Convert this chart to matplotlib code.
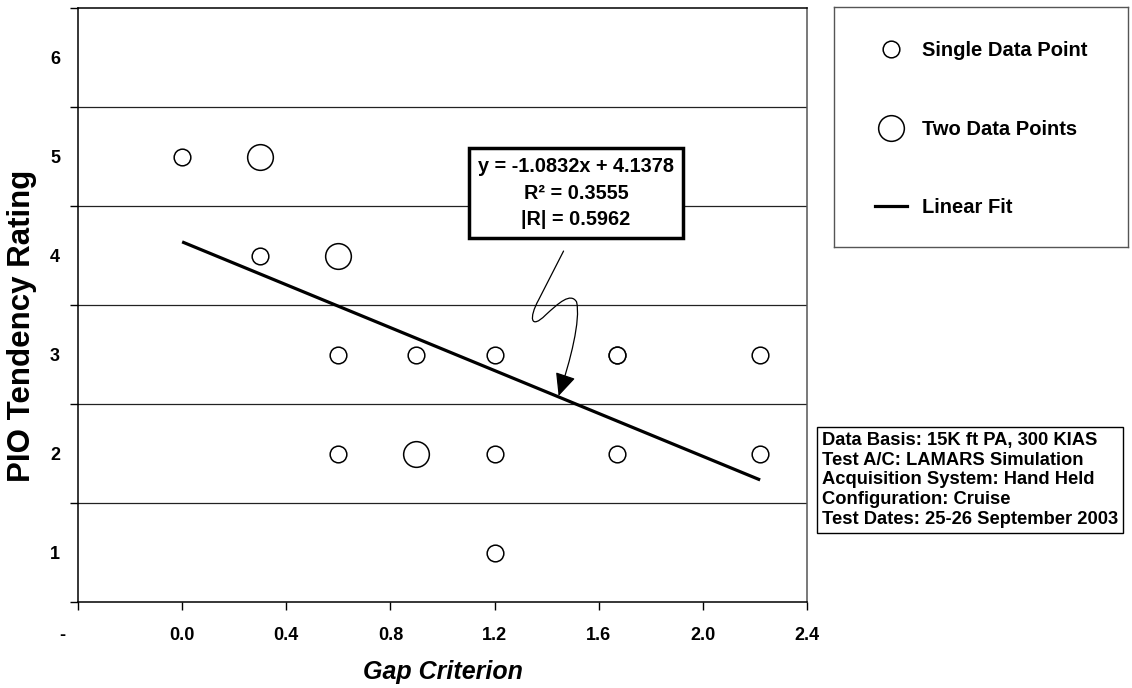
import numpy as np
import matplotlib
matplotlib.use('Agg')
import matplotlib.pyplot as plt
from matplotlib.lines import Line2D
from matplotlib.path import Path
from matplotlib.patches import FancyArrowPatch

plt.rcParams['font.family'] = ['Liberation Sans', 'DejaVu Sans']
plt.rcParams['font.weight'] = 'bold'

# ratings, single pilot points and points shared by two pilots
single_x = [0.0, 0.3, 0.6, 0.9, 1.2, 1.67, 1.67, 2.22, 0.6, 1.2, 1.67, 2.22, 1.2]
single_y = [5, 4, 3, 3, 3, 3, 3, 3, 2, 2, 2, 2, 1]
double_x = [0.3, 0.6, 0.9]
double_y = [5, 4, 2]

slope, intercept = -1.0832, 4.1378
r2, r_abs = 0.3555, 0.5962
fit_x = [0.0, 2.22]

x_ticks = [-0.4, 0.0, 0.4, 0.8, 1.2, 1.6, 2.0, 2.4]
x_labels = ['-      ', '0.0', '0.4', '0.8', '1.2', '1.6', '2.0', '2.4']
y_ratings = [1, 2, 3, 4, 5, 6]

info = ['Data Basis: 15K ft PA, 300 KIAS',
        'Test A/C: LAMARS Simulation',
        'Acquisition System: Hand Held',
        'Configuration: Cruise',
        'Test Dates: 25-26 September 2003']

W, H = 1132, 688
fig = plt.figure(figsize=(W / 100, H / 100), dpi=100)
ax = fig.add_axes([78 / W, 1 - 602 / H, 729 / W, 594 / H])

fx = np.array(fit_x)
ax.plot(fx, slope * fx + intercept, color='black', lw=2.3, zorder=3,
        solid_capstyle='butt')
ax.plot(single_x, single_y, 'o', ms=12, mfc='white', mec='black', mew=1.1,
        ls='none', zorder=4)
ax.plot(double_x, double_y, 'o', ms=18.5, mfc='white', mec='black', mew=1.1,
        ls='none', zorder=4)

ax.set_xlim(-0.4, 2.4)
ax.set_ylim(0.5, 6.5)
ax.set_xticks(x_ticks)
ax.set_xticklabels(x_labels, fontsize=13, fontweight='bold')
ax.set_yticks(np.arange(0.5, 7, 1.0))
ax.set_yticklabels([])
ax.set_yticks(y_ratings, minor=True)
ax.set_yticklabels([str(v) for v in y_ratings], minor=True, fontsize=13,
                   fontweight='bold')
ax.tick_params(axis='y', which='major', length=6, width=1, direction='out')
ax.tick_params(axis='y', which='minor', length=0, pad=13)
ax.tick_params(axis='x', which='major', length=6, width=1, direction='out', pad=12)
for v in np.arange(1.5, 6, 1.0):
    ax.axhline(v, color='#222222', lw=0.9, zorder=1)
for s in ax.spines.values():
    s.set_linewidth(1.1)
ax.spines['right'].set_color('#555555')

ax.set_xlabel('Gap Criterion', fontsize=18, fontweight='bold', style='italic',
              va='center')
ax.xaxis.set_label_coords(0.5, -0.118)
ax.set_ylabel('PIO Tendency Rating', fontsize=22.5, fontweight='bold',
              va='center')
ax.yaxis.set_label_coords(-0.077, 0.465)

# fit annotation
eq = 'y = %.4fx + %.4f\nR² = %.4f\n|R| = %.4f' % (slope, intercept, r2, r_abs)
ax.text(1.513, 4.631, eq, ha='center', va='center', fontsize=14.3,
        fontweight='bold', linespacing=1.5, zorder=6,
        bbox=dict(boxstyle='square,pad=0.45', fc='white', ec='black', lw=2.5))

verts = [(1.465, 4.045), (1.369, 3.551),
         (1.331, 3.369), (1.338, 3.247), (1.396, 3.399),
         (1.446, 3.520), (1.492, 3.631), (1.515, 3.531),
         (1.531, 3.348), (1.492, 2.944), (1.446, 2.581)]
codes = [Path.MOVETO, Path.LINETO] + [Path.CURVE4] * 9
arrow = FancyArrowPatch(path=Path(verts, codes),
                        arrowstyle='-|>,head_length=0.7,head_width=0.32',
                        mutation_scale=20, color='black', lw=0.9, zorder=5)
ax.add_patch(arrow)

# legend box
lax = fig.add_axes([834 / W, 1 - 247 / H, 294 / W, 240 / H])
lax.set_xticks([])
lax.set_yticks([])
for s in lax.spines.values():
    s.set_color('#555555')
    s.set_linewidth(1)
handles = [
    Line2D([], [], marker='o', ms=12, mfc='white', mec='black', mew=1.1, ls='none'),
    Line2D([], [], marker='o', ms=18.5, mfc='white', mec='black', mew=1.1, ls='none'),
    Line2D([], [], color='black', lw=2.3),
]
lax.legend(handles, ['Single Data Point', 'Two Data Points', 'Linear Fit'],
           loc='center', frameon=False, prop={'weight': 'bold', 'size': 14.5},
           labelspacing=2.95, handlelength=1.6, handletextpad=0.75,
           bbox_to_anchor=(0.5, 0.49))

# test condition box
fig.text(822 / W, 1 - 432 / H, '\n'.join(info), ha='left', va='top',
         fontsize=13.2, fontweight='bold', linespacing=1.21,
         bbox=dict(boxstyle='square,pad=0.25', fc='white', ec='black', lw=1))

fig.savefig('out.png', dpi=100)
